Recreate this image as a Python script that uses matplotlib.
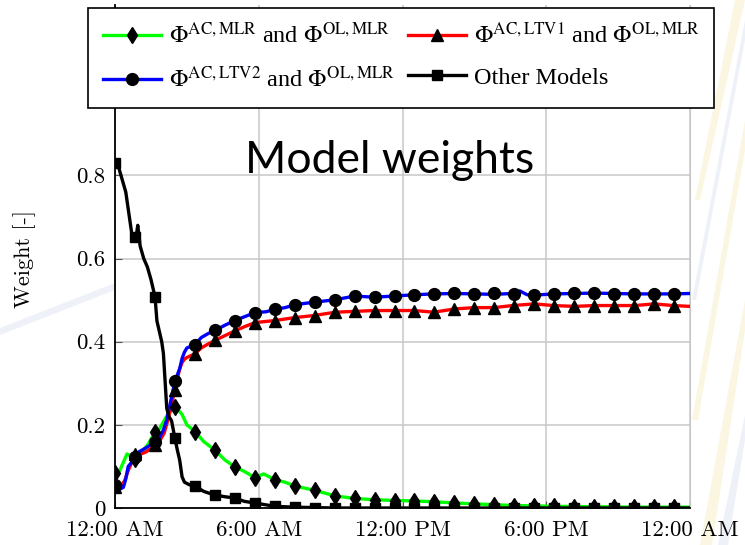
import numpy as np
import matplotlib
matplotlib.use("Agg")
import matplotlib.pyplot as plt
from matplotlib.patches import Polygon

plt.rcParams['mathtext.fontset'] = 'stix'
plt.rcParams['axes.formatter.use_mathtext'] = True

# marker times (minutes after midnight) and marker values
marker_min = list(range(0, 1401, 50))
mlr_mark = [0.083, 0.119, 0.183, 0.243, 0.184, 0.139, 0.099, 0.073, 0.068, 0.053,
            0.043, 0.029, 0.023, 0.020, 0.018, 0.017, 0.015, 0.012, 0.010, 0.008,
            0.006, 0.005, 0.004, 0.003, 0.003, 0.002, 0.002, 0.002, 0.002]
ltv1_mark = [0.05, 0.131, 0.151, 0.285, 0.371, 0.403, 0.426, 0.446, 0.451, 0.458,
             0.463, 0.471, 0.473, 0.475, 0.475, 0.475, 0.471, 0.479, 0.482, 0.482,
             0.487, 0.491, 0.487, 0.485, 0.487, 0.487, 0.487, 0.491, 0.487]
ltv2_mark = [0.055, 0.123, 0.159, 0.305, 0.393, 0.427, 0.451, 0.470, 0.478, 0.489,
             0.495, 0.501, 0.510, 0.507, 0.510, 0.513, 0.515, 0.516, 0.515, 0.516,
             0.515, 0.513, 0.515, 0.517, 0.516, 0.515, 0.515, 0.515, 0.515]
other_mark = [0.83, 0.652, 0.508, 0.168, 0.053, 0.031, 0.024, 0.012, 0.004, 0.002,
              0.001, 0.0, 0.0, 0.0, 0.0, 0.0, 0.0, 0.0, 0.0, 0.0,
              0.0, 0.0, 0.0, 0.0, 0.0, 0.0, 0.0, 0.0, 0.0]

# line traces (hours, weight)
mlr_h = [0, 0.2, 0.35, 0.5, 0.65, 0.835, 1.0, 1.2, 1.4, 1.67,
         1.85, 2.0, 2.2, 2.35, 2.5, 2.65, 2.8, 3.0, 3.34, 3.7,
         4.17, 4.6, 5.0, 5.4, 5.84, 6.2, 6.68, 7.1, 7.5, 8.3,
         9.2, 10.0, 10.8, 11.7, 12.5, 13.3, 14.2, 15.0, 15.8, 16.6,
         17.5, 18.3, 20.0, 21.7, 24]
mlr_v = [0.083, 0.09, 0.11, 0.13, 0.125, 0.119, 0.135, 0.14, 0.155, 0.183,
         0.19, 0.205, 0.225, 0.235, 0.243, 0.235, 0.225, 0.20, 0.184, 0.16,
         0.139, 0.115, 0.099, 0.088, 0.073, 0.082, 0.068, 0.062, 0.053, 0.043,
         0.029, 0.023, 0.020, 0.018, 0.017, 0.015, 0.012, 0.010, 0.008, 0.006,
         0.005, 0.004, 0.003, 0.002, 0.002]

ltv1_h = [0, 0.2, 0.4, 0.55, 0.7, 0.835, 1.0, 1.3, 1.67, 1.9,
          2.05, 2.2, 2.35, 2.5, 2.6, 2.7, 2.8, 2.9, 3.0, 3.34,
          3.6, 3.9, 4.17, 4.6, 5.0, 5.4, 5.84, 6.68, 7.5, 8.3,
          9.2, 10.0, 10.8, 11.7, 12.5, 13.3, 14.2, 15.0, 15.8, 16.6,
          17.5, 18.3, 19.2, 20.0, 20.8, 21.7, 22.5, 23.3, 24]
ltv1_v = [0.05, 0.05, 0.065, 0.09, 0.11, 0.13, 0.128, 0.135, 0.15, 0.165,
          0.18, 0.21, 0.245, 0.285, 0.31, 0.335, 0.35, 0.358, 0.362, 0.371,
          0.385, 0.395, 0.403, 0.415, 0.426, 0.436, 0.446, 0.451, 0.458, 0.463,
          0.471, 0.473, 0.475, 0.475, 0.475, 0.471, 0.479, 0.482, 0.482, 0.487,
          0.491, 0.487, 0.485, 0.487, 0.487, 0.487, 0.491, 0.487, 0.485]

ltv2_h = [0, 0.2, 0.35, 0.45, 0.55, 0.7, 0.835, 1.0, 1.3, 1.67,
          1.85, 2.0, 2.15, 2.3, 2.5, 2.6, 2.7, 2.8, 2.9, 3.0,
          3.34, 3.6, 3.9, 4.17, 4.6, 5.0, 5.4, 5.84, 6.3, 6.68,
          7.1, 7.5, 8.3, 9.2, 10.0, 10.8, 11.7, 12.5, 13.3, 14.2,
          15.0, 15.8, 16.6, 16.9, 17.2, 17.5, 18.3, 19.2, 20.0, 20.8,
          21.7, 22.5, 23.3, 24]
ltv2_v = [0.045, 0.045, 0.05, 0.07, 0.10, 0.11, 0.123, 0.135, 0.145, 0.159,
          0.17, 0.185, 0.21, 0.25, 0.305, 0.32, 0.335, 0.36, 0.375, 0.385,
          0.393, 0.41, 0.42, 0.427, 0.44, 0.451, 0.46, 0.470, 0.472, 0.478,
          0.482, 0.489, 0.495, 0.501, 0.510, 0.507, 0.510, 0.513, 0.515, 0.516,
          0.515, 0.514, 0.516, 0.522, 0.513, 0.512, 0.515, 0.516, 0.517, 0.516,
          0.515, 0.515, 0.515, 0.516]

other_h = [0, 0.1, 0.2, 0.3, 0.45, 0.6, 0.7, 0.835, 0.9, 0.95,
           1.05, 1.2, 1.35, 1.5, 1.67, 1.75, 1.95, 2.02, 2.16, 2.25,
           2.36, 2.5, 2.6, 2.7, 2.8, 2.9, 3.1, 3.34, 3.7, 4.17,
           4.6, 5.0, 5.4, 5.84, 6.68, 7.5, 8.3, 9.2, 24]
other_v = [0.83, 0.83, 0.81, 0.79, 0.76, 0.70, 0.66, 0.652, 0.66, 0.68,
           0.63, 0.60, 0.58, 0.55, 0.508, 0.45, 0.40, 0.372, 0.24, 0.22,
           0.21, 0.168, 0.14, 0.115, 0.075, 0.062, 0.056, 0.053, 0.04, 0.031,
           0.027, 0.024, 0.016, 0.012, 0.004, 0.002, 0.001, 0.0, 0.0]

labels = [r"$\Phi^{\mathrm{AC,MLR}}$ and $\Phi^{\mathrm{OL,MLR}}$",
          r"$\Phi^{\mathrm{AC,LTV1}}$ and $\Phi^{\mathrm{OL,MLR}}$",
          r"$\Phi^{\mathrm{AC,LTV2}}$ and $\Phi^{\mathrm{OL,MLR}}$",
          "Other Models"]
xtick_labels = ["12:00 AM", "6:00 AM", "12:00 PM", "6:00 PM", "12:00 AM"]

mh = np.array(marker_min) / 60.0

fig = plt.figure(figsize=(7.45, 5.45), dpi=100)

# faint background streaks (slide watermark), kept behind everything
for pts, col in [
    ([(700, 545), (712, 545), (745, 330), (745, 300)], '#fbf6e2'),
    ([(718, 545), (728, 545), (745, 440), (745, 415)], '#eef2f8'),
    ([(692, 420), (698, 420), (745, 150), (745, 120)], '#fbf6e2'),
    ([(692, 300), (696, 300), (745, 40), (745, 20)], '#eef2f8'),
    ([(695, 200), (700, 200), (745, 0), (735, 0)], '#fbf6e2'),
    ([(0, 335), (0, 328), (115, 283), (115, 290)], '#eef2f8'),
]:
    fig.patches.append(Polygon([(x / 745, 1 - y / 545) for x, y in pts],
                               closed=True, transform=fig.transFigure,
                               facecolor=col, edgecolor='none', zorder=-10))

ax = fig.add_axes([115/745, 1 - 508/545, 575/745, 503/545])

series = [
    (mlr_h, mlr_v, mlr_mark, '#00ff00', 'd', 8),
    (ltv1_h, ltv1_v, ltv1_mark, '#ff0000', '^', 8),
    (ltv2_h, ltv2_v, ltv2_mark, '#0000ff', 'o', 8.5),
    (other_h, other_v, other_mark, 'black', 's', 7),
]
handles = []
for (h, v, mk, col, m, ms), lab in zip(series, labels):
    ax.plot(h, v, color=col, lw=2.4, zorder=3)
    ax.plot(mh, mk, ls='none', marker=m, ms=ms, color='black', zorder=4)
    handles.append(plt.Line2D([], [], color=col, lw=2.4, marker=m, ms=ms,
                              mfc='black', mec='black'))

ax.set_xlim(0, 24)
ax.set_ylim(0, 1.21)
ax.set_xticks([0, 6, 12, 18, 24])
ax.set_xticklabels(xtick_labels)
ax.set_yticks([0, 0.2, 0.4, 0.6, 0.8])
ax.set_yticklabels(["0", "0.2", "0.4", "0.6", "0.8"])
ax.grid(True, color='#c8c8c8', lw=1.1, zorder=0)
ax.tick_params(direction='in', length=5, color='#555555', labelsize=16.5)
ax.tick_params(axis='y', pad=7)
ax.tick_params(axis='x', pad=9)
for lbl in ax.get_xticklabels() + ax.get_yticklabels():
    lbl.set_family('cmr10')
ax.spines['top'].set_visible(False)
ax.spines['right'].set_color('#c8c8c8')
ax.spines['left'].set_linewidth(1.3)
ax.spines['bottom'].set_linewidth(1.3)
ax.set_ylabel("Weight [-]", family='cmr10', fontsize=16)
ax.yaxis.set_label_coords(-0.137, 0.495)

ax.text(245/745, 1 - 173/545, "Model weights", transform=fig.transFigure,
        family='Lato', fontsize=32, ha='left', va='baseline')

# legend fills column-wise: order so rows read green/red, blue/black
order = [0, 2, 1, 3]
leg = fig.legend([handles[i] for i in order], [labels[i] for i in order],
                 loc='upper left', ncol=2, borderaxespad=0,
                 bbox_to_anchor=(88/745, 1 - 8/545),
                 prop={'family': 'Liberation Serif', 'size': 17.5},
                 frameon=True, fancybox=False, edgecolor='black',
                 handlelength=2.4, handletextpad=0.3, columnspacing=0.55,
                 labelspacing=0.75, borderpad=0.62, framealpha=1)
leg.get_frame().set_linewidth(1.2)

fig.savefig("out.png", dpi=100)
